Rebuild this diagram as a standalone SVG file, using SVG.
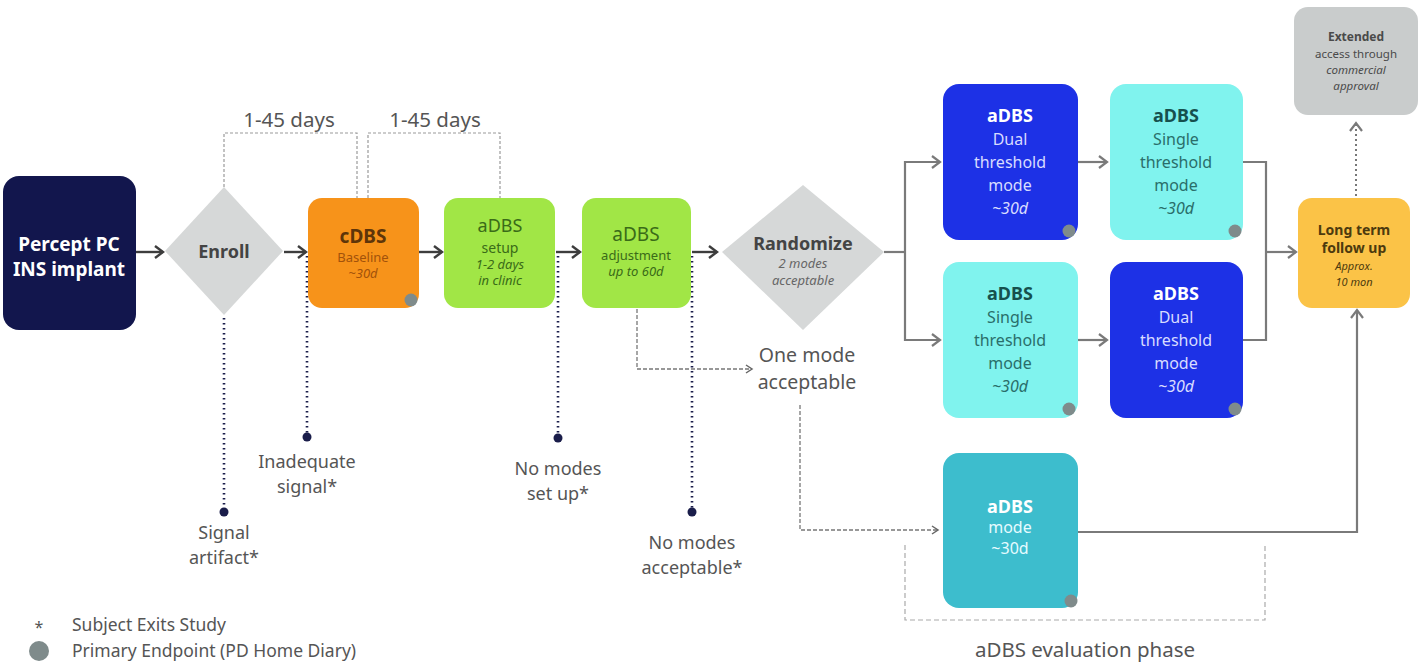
<svg xmlns="http://www.w3.org/2000/svg" width="1421" height="664" viewBox="0 0 1421 664">
<defs>
<marker id="ah" markerWidth="12" markerHeight="14" refX="10" refY="7" orient="auto" markerUnits="userSpaceOnUse">
<path d="M2,1 L10,7 L2,13" fill="none" stroke="#3d3d3d" stroke-width="2.4"/>
</marker>
<marker id="ahg" markerWidth="12" markerHeight="14" refX="10" refY="7" orient="auto" markerUnits="userSpaceOnUse">
<path d="M2,1 L10,7 L2,13" fill="none" stroke="#7a7a7a" stroke-width="2.2"/>
</marker>
<marker id="ahs" markerWidth="10" markerHeight="10" refX="8" refY="5" orient="auto" markerUnits="userSpaceOnUse">
<path d="M2,1 L8,5 L2,9" fill="none" stroke="#666" stroke-width="1.5"/>
</marker>
</defs>
<style>
text{font-family:"Noto Sans","Open Sans","Liberation Sans",sans-serif;text-anchor:middle}
.b{font-weight:bold}
.i{font-style:italic}
.lbl{font-size:20.5px;fill:#555}
.ex{font-size:18px;fill:#555}
.main{stroke:#3d3d3d;stroke-width:2.4;fill:none}
.split{stroke:#7a7a7a;stroke-width:2.2;fill:none}
.brk{stroke:#9a9a9a;stroke-width:1.2;fill:none;stroke-dasharray:3 2}
.exit{stroke:#1a1d4a;stroke-width:2.6;fill:none;stroke-dasharray:1.5 3.5}
.thin{stroke:#777;stroke-width:1.3;fill:none;stroke-dasharray:4 2}
.dot{fill:#7f8b8b}
</style>
<rect width="1421" height="664" fill="#ffffff"/>

<g id="connectors">
<line class="main" x1="136" y1="252" x2="163" y2="252" marker-end="url(#ah)"/>
<line class="main" x1="284" y1="252" x2="306" y2="252" marker-end="url(#ah)"/>
<line class="main" x1="419" y1="252" x2="442" y2="252" marker-end="url(#ah)"/>
<line class="main" x1="556" y1="252" x2="580" y2="252" marker-end="url(#ah)"/>
<line class="main" x1="692" y1="252" x2="717" y2="252" marker-end="url(#ah)"/>
<polyline class="split" points="884,252 905,252"/>
<polyline class="split" points="940,162 905,162 905,340 940,340" marker-end="url(#ahg)"/>
<line class="split" x1="905" y1="162" x2="940" y2="162" marker-end="url(#ahg)"/>
<line class="split" x1="1078" y1="162" x2="1107" y2="162" marker-end="url(#ahg)"/>
<line class="split" x1="1078" y1="340" x2="1107" y2="340" marker-end="url(#ahg)"/>
<polyline class="split" points="1243,162 1266,162 1266,340 1243,340"/>
<line class="split" x1="1266" y1="252" x2="1296" y2="252" marker-end="url(#ahg)"/>
<polyline class="split" points="1078,532 1357,532 1357,310" marker-end="url(#ahg)"/>
<line x1="1356" y1="196" x2="1356" y2="123" stroke="#777" stroke-width="2" stroke-dasharray="2 3" marker-end="url(#ahg)"/>
<polyline class="brk" points="224,187 224,133 357,133 357,198"/>
<polyline class="brk" points="368,198 368,133 500,133 500,198"/>
<line class="exit" x1="224" y1="318" x2="224" y2="512"/>
<circle cx="224" cy="512" r="4.5" fill="#1a1d4a"/>
<line class="exit" x1="307" y1="256" x2="307" y2="437"/>
<circle cx="307" cy="437" r="4.5" fill="#1a1d4a"/>
<line class="exit" x1="558" y1="256" x2="558" y2="438"/>
<circle cx="558" cy="438" r="4.5" fill="#1a1d4a"/>
<line class="exit" x1="692" y1="256" x2="692" y2="512"/>
<circle cx="692" cy="512" r="4.5" fill="#1a1d4a"/>
<polyline class="thin" points="637,309 637,369 752,369" marker-end="url(#ahs)"/>
<polyline class="thin" points="800,405 800,530 938,530" marker-end="url(#ahs)"/>
<polyline points="905,545 905,620 1265,620 1265,545" fill="none" stroke="#aaa" stroke-width="1.2" stroke-dasharray="5 3"/>
</g>

<g id="percept">
<rect x="3" y="176" width="133" height="154" rx="16" fill="#12164d"/>
<text x="69" y="251" class="b" font-size="19" fill="#ffffff">Percept PC</text>
<text x="69" y="276" class="b" font-size="19" fill="#ffffff">INS implant</text>
</g>

<g id="enroll">
<polygon points="224,187 283,251 224,315 165,251" fill="#d6d8d8"/>
<text x="224" y="258" class="b" font-size="18" fill="#444">Enroll</text>
</g>

<g id="cdbs">
<rect x="308" y="198" width="111" height="110" rx="14" fill="#f7931a"/>
<text x="363" y="243" class="b" font-size="19" fill="#5e3509">cDBS</text>
<text x="363" y="262" font-size="13" fill="#a2520a">Baseline</text>
<text x="363" y="278" class="i" font-size="13" fill="#a2520a">~30d</text>
<circle cx="411" cy="300" r="6.5" class="dot"/>
</g>

<g id="setup">
<rect x="444" y="198" width="111" height="110" rx="14" fill="#a1e646"/>
<text x="500" y="232" font-size="18" fill="#3a6b18">aDBS</text>
<text x="500" y="253" font-size="14" fill="#3a6b18">setup</text>
<text x="500" y="269" class="i" font-size="13" fill="#3a6b18">1-2 days</text>
<text x="500" y="285" class="i" font-size="13" fill="#3a6b18">in clinic</text>
</g>

<g id="adjust">
<rect x="582" y="198" width="109" height="110" rx="14" fill="#a1e646"/>
<text x="636" y="241" font-size="19" fill="#3a6b18">aDBS</text>
<text x="636" y="260" font-size="13" fill="#3a6b18">adjustment</text>
<text x="636" y="276" class="i" font-size="13" fill="#3a6b18">up to 60d</text>
</g>

<g id="randomize">
<polygon points="803,185 884,252 803,330 722,252" fill="#d6d8d8"/>
<text x="803" y="250" class="b" font-size="18" fill="#444">Randomize</text>
<text x="803" y="268" class="i" font-size="13" fill="#666">2 modes</text>
<text x="803" y="285" class="i" font-size="13" fill="#666">acceptable</text>
</g>

<g id="onemode">
<text x="807" y="362" font-size="19.5" fill="#555">One mode</text>
<text x="807" y="389" font-size="19.5" fill="#555">acceptable</text>
</g>

<g id="dual1">
<rect x="943" y="84" width="135" height="156" rx="16" fill="#1d31e6"/>
<text x="1010" y="122" class="b" font-size="18" fill="#ffffff">aDBS</text>
<text x="1010" y="145" font-size="16" fill="#d8dcff">Dual</text>
<text x="1010" y="168" font-size="16" fill="#d8dcff">threshold</text>
<text x="1010" y="191" font-size="16" fill="#d8dcff">mode</text>
<text x="1010" y="214" class="i" font-size="16" fill="#d8dcff">~30d</text>
<circle cx="1069" cy="231" r="6.5" class="dot"/>
</g>

<g id="single1">
<rect x="1110" y="84" width="133" height="156" rx="16" fill="#80f3ee"/>
<text x="1176" y="122" class="b" font-size="18" fill="#16504d">aDBS</text>
<text x="1176" y="145" font-size="16" fill="#2a6e6a">Single</text>
<text x="1176" y="168" font-size="16" fill="#2a6e6a">threshold</text>
<text x="1176" y="191" font-size="16" fill="#2a6e6a">mode</text>
<text x="1176" y="214" class="i" font-size="16" fill="#2a6e6a">~30d</text>
<circle cx="1235" cy="231" r="6.5" class="dot"/>
</g>

<g id="single2">
<rect x="943" y="262" width="135" height="156" rx="16" fill="#80f3ee"/>
<text x="1010" y="300" class="b" font-size="18" fill="#16504d">aDBS</text>
<text x="1010" y="323" font-size="16" fill="#2a6e6a">Single</text>
<text x="1010" y="346" font-size="16" fill="#2a6e6a">threshold</text>
<text x="1010" y="369" font-size="16" fill="#2a6e6a">mode</text>
<text x="1010" y="392" class="i" font-size="16" fill="#2a6e6a">~30d</text>
<circle cx="1069" cy="409" r="6.5" class="dot"/>
</g>

<g id="dual2">
<rect x="1110" y="262" width="133" height="156" rx="16" fill="#1d31e6"/>
<text x="1176" y="300" class="b" font-size="18" fill="#ffffff">aDBS</text>
<text x="1176" y="323" font-size="16" fill="#d8dcff">Dual</text>
<text x="1176" y="346" font-size="16" fill="#d8dcff">threshold</text>
<text x="1176" y="369" font-size="16" fill="#d8dcff">mode</text>
<text x="1176" y="392" class="i" font-size="16" fill="#d8dcff">~30d</text>
<circle cx="1235" cy="409" r="6.5" class="dot"/>
</g>

<g id="single-mode">
<rect x="943" y="453" width="135" height="155" rx="16" fill="#3dbdcd"/>
<text x="1010" y="513" class="b" font-size="18" fill="#ffffff">aDBS</text>
<text x="1010" y="533" font-size="16" fill="#e6fbff">mode</text>
<text x="1010" y="554" font-size="16" fill="#e6fbff">~30d</text>
<circle cx="1071" cy="601" r="6.5" class="dot"/>
</g>

<g id="longterm">
<rect x="1298" y="198" width="112" height="110" rx="14" fill="#fbc347"/>
<text x="1354" y="235" class="b" font-size="14" fill="#4c3a0e">Long term</text>
<text x="1354" y="253" class="b" font-size="14" fill="#4c3a0e">follow up</text>
<text x="1354" y="270" class="i" font-size="11" fill="#4c3a0e">Approx.</text>
<text x="1354" y="286" class="i" font-size="11" fill="#4c3a0e">10 mon</text>
</g>

<g id="extended">
<rect x="1294" y="7" width="124" height="108" rx="14" fill="#c9cccc"/>
<text x="1356" y="41" class="b" font-size="12" fill="#4a4a4a">Extended</text>
<text x="1356" y="58" font-size="11.5" fill="#4a4a4a">access through</text>
<text x="1356" y="74" class="i" font-size="11.5" fill="#4a4a4a">commercial</text>
<text x="1356" y="90" class="i" font-size="11.5" fill="#4a4a4a">approval</text>
</g>

<g id="labels">
<text x="289" y="127" class="lbl">1-45 days</text>
<text x="435" y="127" class="lbl">1-45 days</text>
<text x="224" y="539" class="ex">Signal</text>
<text x="224" y="564" class="ex">artifact*</text>
<text x="307" y="468" class="ex">Inadequate</text>
<text x="307" y="493" class="ex">signal*</text>
<text x="558" y="475" class="ex">No modes</text>
<text x="558" y="500" class="ex">set up*</text>
<text x="692" y="549" class="ex">No modes</text>
<text x="692" y="574" class="ex">acceptable*</text>
<text x="1085" y="657" class="lbl">aDBS evaluation phase</text>
</g>

<g id="legend">
<text x="39" y="633" font-size="16" fill="#555">*</text>
<text x="72" y="631" font-size="17.5" fill="#555" style="text-anchor:start">Subject Exits Study</text>
<circle cx="39" cy="651" r="10" class="dot"/>
<text x="72" y="657" font-size="17.5" fill="#555" style="text-anchor:start">Primary Endpoint (PD Home Diary)</text>
</g>
</svg>
